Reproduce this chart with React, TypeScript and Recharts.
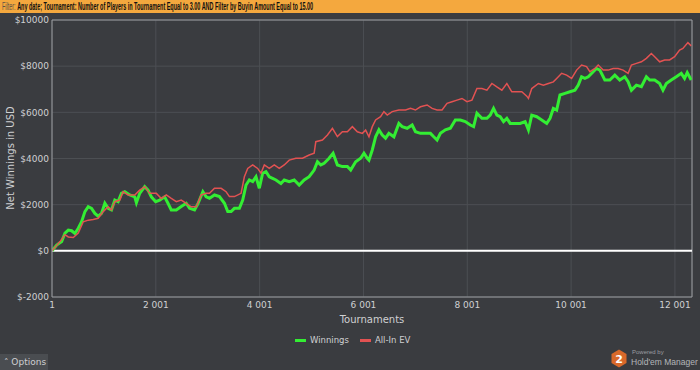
import React, { useLayoutEffect, useRef, useState } from "react";
import {
  LineChart,
  Line,
  XAxis,
  YAxis,
  CartesianGrid,
  ReferenceLine,
} from "recharts";

const xTicks = [1, 2001, 4001, 6001, 8001, 10001, 12001];
const yTicks = [-2000, 0, 2000, 4000, 6000, 8000, 10000];
const lastTournament = 12330;

// Winnings
const winningsAt = [
  1, 91, 187, 251, 315, 379, 443, 507, 571, 635, 699, 763, 827, 891, 955, 1019,
  1083, 1147, 1211, 1275, 1339, 1403, 1499, 1595, 1627, 1691, 1787, 1851, 1915,
  1998, 2075, 2171, 2235, 2299, 2395, 2491, 2587, 2651, 2747, 2811, 2907, 2971,
  3035, 3131, 3227, 3323, 3387, 3451, 3515, 3611, 3675, 3739, 3803, 3867, 3931,
  3995, 4059, 4123, 4187, 4251, 4315, 4411, 4475, 4571, 4667, 4763, 4859, 4955,
  5051, 5115, 5179, 5243, 5339, 5416, 5499, 5595, 5691, 5755, 5851, 5947, 6011,
  6075, 6107, 6171, 6235, 6299, 6363, 6427, 6491, 6587, 6683, 6747, 6843, 6939,
  7003, 7099, 7195, 7291, 7355, 7419, 7483, 7579, 7675, 7771, 7867, 7963, 8059,
  8123, 8187, 8283, 8379, 8443, 8507, 8571, 8635, 8699, 8763, 8827, 8923, 9019,
  9115, 9179, 9243, 9339, 9435, 9531, 9595, 9659, 9723, 9787, 9883, 9979, 10075,
  10139, 10203, 10267, 10331, 10427, 10491, 10555, 10651, 10747, 10843, 10939,
  11035, 11099, 11163, 11259, 11355, 11451, 11515, 11611, 11707, 11771, 11835,
  11931, 12027, 12123, 12187, 12238, 12315,
];
const winnings = [
  0, 250, 400, 770, 900, 870, 750, 980, 1260, 1700, 1910, 1840, 1620, 1500, 1620,
  2060, 1840, 1770, 2200, 2130, 2490, 2560, 2420, 2340, 2080, 2490, 2780, 2630,
  2340, 2130, 2200, 2340, 2060, 1770, 1770, 1920, 2060, 1840, 1770, 2030, 2560,
  2340, 2280, 2420, 2350, 2060, 1700, 1700, 1840, 1840, 2200, 2850, 3070, 3000,
  3210, 2710, 3360, 3430, 3210, 3140, 3070, 2920, 3070, 3000, 3070, 2850, 3070,
  3210, 3500, 3860, 3720, 3790, 4010, 4230, 3720, 3650, 3650, 3500, 3860, 4010,
  4230, 4010, 3930, 4370, 4940, 5240, 5020, 4880, 5090, 4940, 5520, 5380, 5310,
  5450, 5160, 5090, 5090, 5090, 4940, 4800, 5090, 5240, 5310, 5670, 5670, 5600,
  5450, 5380, 5960, 5740, 5740, 5880, 6170, 5880, 5810, 5600, 5740, 5520, 5520,
  5520, 5600, 5240, 5880, 5810, 5670, 5520, 5740, 6170, 6100, 6750, 6820, 6890,
  6960, 7180, 7540, 7470, 7540, 7760, 7900, 7830, 7400, 7400, 7610, 7400, 7540,
  7330, 6960, 7180, 7110, 7540, 7400, 7400, 7250, 6960, 7250, 7400, 7540, 7690,
  7470, 7720, 7400,
];

// All-In EV
const allInAt = [
  1, 155, 251, 315, 411, 507, 603, 699, 795, 891, 987, 1083, 1147, 1211, 1307,
  1371, 1467, 1595, 1691, 1787, 1883, 2011, 2107, 2203, 2299, 2395, 2491, 2587,
  2683, 2779, 2875, 2971, 3035, 3131, 3259, 3355, 3419, 3515, 3643, 3707, 3771,
  3867, 3963, 4027, 4091, 4187, 4283, 4379, 4475, 4571, 4699, 4827, 4955, 5051,
  5083, 5211, 5307, 5403, 5499, 5595, 5691, 5787, 5883, 5979, 6043, 6107, 6171,
  6235, 6331, 6395, 6459, 6555, 6683, 6811, 6907, 7003, 7099, 7227, 7323, 7419,
  7515, 7611, 7707, 7803, 7899, 7995, 8091, 8187, 8283, 8379, 8475, 8571, 8667,
  8763, 8859, 8955, 9051, 9147, 9179, 9243, 9371, 9467, 9563, 9659, 9723, 9819,
  9915, 10011, 10107, 10203, 10299, 10363, 10459, 10523, 10619, 10715, 10811,
  10907, 11003, 11099, 11163, 11259, 11355, 11451, 11547, 11611, 11707, 11803,
  11899, 11995, 12091, 12155, 12251, 12315,
];
const allInEv = [
  0, 400, 700, 600, 580, 770, 1260, 1330, 1360, 1410, 1700, 1910, 1770, 2130,
  2200, 2560, 2420, 2420, 2630, 2780, 2490, 2490, 2270, 2420, 2270, 2130, 2200,
  2060, 1910, 1910, 2420, 2490, 2490, 2710, 2710, 2560, 2350, 2350, 2490, 3210,
  3570, 3720, 3570, 3360, 3720, 3570, 3720, 3570, 3720, 3930, 4010, 4010, 4150,
  4230, 4730, 4800, 5020, 5310, 4950, 5160, 5160, 5380, 5160, 5090, 5230, 4940,
  5380, 5670, 5810, 6030, 5880, 6030, 6100, 6100, 6170, 6100, 6240, 6320, 6170,
  6100, 6100, 6390, 6460, 6530, 6600, 6460, 6530, 7030, 7030, 6960, 7250, 7100,
  6960, 7250, 6890, 6890, 6890, 6700, 6600, 7030, 7250, 7180, 7250, 7320, 7470,
  7690, 7610, 7470, 7830, 8050, 7980, 7760, 7900, 8050, 7830, 7830, 7900, 7900,
  7830, 7690, 8050, 8120, 8190, 8340, 8550, 8410, 8190, 8270, 8270, 8410, 8700,
  8770, 9020, 8880,
];

const winningsData = winningsAt.map((t, i) => ({ t, v: winnings[i] }));
const allInData = allInAt.map((t, i) => ({ t, v: allInEv[i] }));

const font = "'DejaVu Sans', sans-serif";
const narrow = "'Liberation Sans', Arial, sans-serif";
const bg = "#3a3c40";
const textColor = "#cfd0d2";

const fmtTournament = (v: number) =>
  String(v).replace(/\B(?=(\d{3})+(?!\d))/g, " ");

// filter bar text is a condensed font in the original, so squeeze it to width
function FilterBar() {
  const ref = useRef<HTMLDivElement>(null);
  const [k, setK] = useState(0.6);
  useLayoutEffect(() => {
    if (ref.current) setK(311 / ref.current.scrollWidth);
  }, []);
  return (
    <div
      style={{
        position: "absolute",
        left: 0,
        top: 0,
        width: 700,
        height: 13,
        background: "#f4a83e",
      }}
    >
      <div
        ref={ref}
        style={{
          position: "absolute",
          left: 2,
          top: 0,
          whiteSpace: "nowrap",
          fontFamily: narrow,
          fontSize: 10,
          lineHeight: "13px",
          transform: `scaleX(${k})`,
          transformOrigin: "left center",
          color: "#111",
        }}
      >
        <span style={{ color: "#5c5245" }}>Filter: </span>
        <b>
          Any date; Tournament: Number of Players in Tournament Equal to 3.00 AND
          Filter by Buyin Amount Equal to 15.00
        </b>
      </div>
    </div>
  );
}

export default function App() {
  return (
    <div
      style={{
        position: "absolute",
        left: 0,
        top: 0,
        width: 700,
        height: 370,
        background: bg,
        fontFamily: font,
        overflow: "hidden",
      }}
    >
      <FilterBar />

      <div style={{ position: "absolute", left: 0, top: 0 }}>
        <LineChart
          width={700}
          height={370}
          margin={{ top: 20, right: 8, bottom: 43, left: 7 }}
        >
          <CartesianGrid stroke="#4c4f53" strokeWidth={1} />
          <XAxis
            type="number"
            dataKey="t"
            domain={[1, lastTournament]}
            ticks={xTicks}
            tickFormatter={fmtTournament}
            allowDataOverflow
            height={30}
            stroke="#9b9ea2"
            tickLine={false}
            tickSize={3}
            tick={{ fill: textColor, fontSize: 9, fontFamily: font }}
          />
          <YAxis
            type="number"
            domain={[-2000, 10000]}
            ticks={yTicks}
            tickFormatter={(v: number) => `$${v}`}
            width={45}
            stroke="#9b9ea2"
            tickLine={false}
            tickSize={3}
            tickMargin={0}
            tick={{ fill: textColor, fontSize: 9, fontFamily: font }}
          />
          <ReferenceLine y={10000} stroke="#9b9ea2" />
          <ReferenceLine x={lastTournament} stroke="#9b9ea2" />
          <ReferenceLine y={0} stroke="#ffffff" strokeWidth={2} />
          <Line
            data={winningsData}
            dataKey="v"
            type="linear"
            stroke="#33ee33"
            strokeWidth={3}
            dot={false}
            isAnimationActive={false}
          />
          <Line
            data={allInData}
            dataKey="v"
            type="linear"
            stroke="#e25252"
            strokeWidth={1.5}
            dot={false}
            isAnimationActive={false}
          />
        </LineChart>
      </div>

      <div
        style={{
          position: "absolute",
          left: 10,
          top: 158,
          transform: "translate(-50%, -50%) rotate(-90deg)",
          whiteSpace: "nowrap",
          fontSize: 10,
          color: textColor,
        }}
      >
        Net Winnings in USD
      </div>

      <div
        style={{
          position: "absolute",
          left: 372,
          top: 319,
          transform: "translate(-50%, -50%)",
          fontSize: 10,
          color: textColor,
        }}
      >
        Tournaments
      </div>

      <div
        style={{
          position: "absolute",
          left: 295,
          top: 334,
          height: 12,
          display: "flex",
          alignItems: "center",
          fontSize: 8.5,
          color: textColor,
          whiteSpace: "nowrap",
        }}
      >
        <span style={{ width: 11, height: 3, background: "#33ee33", marginRight: 4 }} />
        <span style={{ marginRight: 11 }}>Winnings</span>
        <span style={{ width: 11, height: 3, background: "#e25252", marginRight: 4 }} />
        <span>All-In EV</span>
      </div>

      <div
        style={{
          position: "absolute",
          left: 0,
          top: 354,
          width: 48,
          height: 16,
          background: "#4a4d51",
          fontSize: 9,
          lineHeight: "16px",
          color: textColor,
          paddingLeft: 4,
          boxSizing: "border-box",
          whiteSpace: "nowrap",
        }}
      >
        ˄ Options
      </div>

      <svg
        style={{ position: "absolute", left: 611, top: 349 }}
        width={16}
        height={20}
      >
        <polygon points="8,0.5 15.5,5 15.5,14 8,18.5 0.5,14 0.5,5" fill="#d9692a" />
        <text
          x={8}
          y={14}
          textAnchor="middle"
          fontSize={11}
          fontWeight="bold"
          fill="#fff"
          fontFamily={font}
        >
          2
        </text>
      </svg>
      <div
        style={{
          position: "absolute",
          left: 632,
          top: 349,
          fontFamily: narrow,
          fontSize: 6,
          lineHeight: "7px",
          color: "#9a9ca0",
          whiteSpace: "nowrap",
        }}
      >
        Powered by
      </div>
      <div
        style={{
          position: "absolute",
          left: 631,
          top: 357,
          fontFamily: narrow,
          fontSize: 8.5,
          lineHeight: "10px",
          color: "#b4b6b9",
          whiteSpace: "nowrap",
        }}
      >
        Hold'em Manager
      </div>
    </div>
  );
}
